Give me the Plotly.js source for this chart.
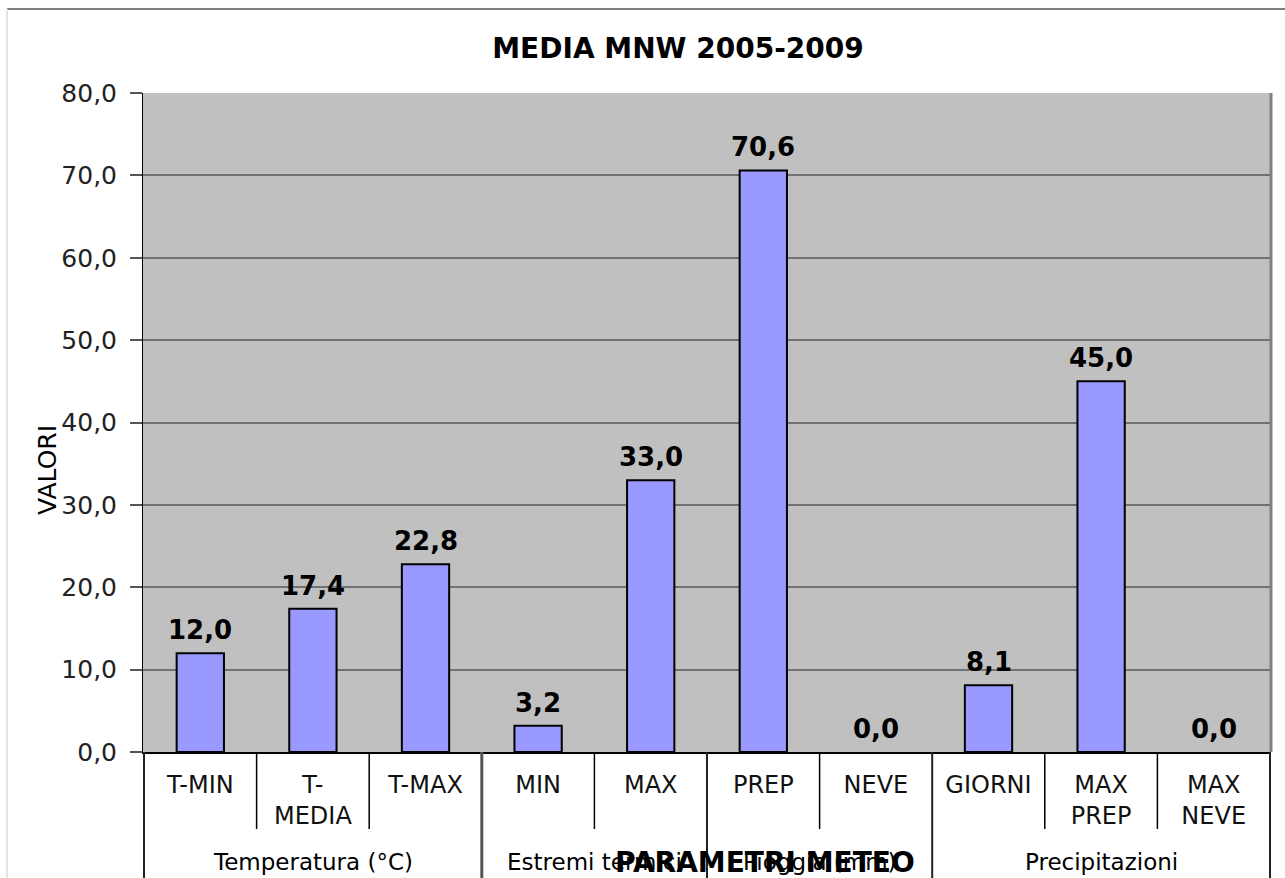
<!DOCTYPE html>
<html>
<head>
<meta charset="utf-8">
<script src="https://cdn.plot.ly/plotly-3.0.1.min.js"></script>
<style>
  html, body { margin: 0; padding: 0; background: #fff; }
  #chart { width: 1285px; height: 878px; }
</style>
</head>
<body>
<div id="chart"></div>
<script>
"use strict";

// Categories, left to right, and the group each one belongs to.
var categories = ['T-MIN', 'T-<br>MEDIA', 'T-MAX', 'MIN', 'MAX', 'PREP', 'NEVE', 'GIORNI', 'MAX<br>PREP', 'MAX<br>NEVE'];
var values = [12.0, 17.4, 22.8, 3.2, 33.0, 70.6, 0.0, 8.1, 45.0, 0.0];
var groupNames = ['Temperatura (°C)', 'Estremi termici', 'Pioggia (mm)', 'Precipitazioni'];
var groupSizes = [3, 2, 2, 3];
var yTicks = [0, 10, 20, 30, 40, 50, 60, 70, 80];

var FONT = '"DejaVu Sans", Verdana, sans-serif';

// Pixel helpers for the label area below the plot (plot spans y 93..752).
var PLOT_TOP = 93, PLOT_BOTTOM = 752;
function paperY(px) {
  return (PLOT_BOTTOM - px) / (PLOT_BOTTOM - PLOT_TOP);
}

var bars = {
  type: 'bar',
  x: categories,
  y: values,
  marker: {
    color: '#9999FF',
    // zero-height bars show no outline in the original
    line: {color: '#000000', width: values.map(function(v) { return v > 0 ? 2 : 0; })},
  },
  hoverinfo: 'x+y',
};

// Value labels above bars.
var annotations = values.map(function(v, i) {
  return {
    x: categories[i],
    y: v,
    xref: 'x',
    yref: 'y',
    text: v.toFixed(1).replace('.', ','),
    showarrow: false,
    yanchor: 'bottom',
    yshift: 6,
    font: {family: FONT, size: 26, color: '#000', weight: 'bold'},
  };
});

// Separators between categories, long ones between groups.
var shapes = [];
var start = 0;
var groupEdges = [0];
groupSizes.forEach(function(size, g) {
  annotations.push({
    x: start + (size - 1) / 2,
    xref: 'x',
    y: paperY(862),
    yref: 'paper',
    text: groupNames[g],
    showarrow: false,
    yanchor: 'middle',
    font: {family: FONT, size: 23, color: '#000'},
  });
  for (var k = 1; k < size; k++) {
    shapes.push({
      type: 'line', xref: 'x', yref: 'paper',
      x0: start + k - 0.5, x1: start + k - 0.5,
      y0: 0, y1: paperY(829),
      line: {color: '#000', width: 1.5},
    });
  }
  start += size;
  groupEdges.push(start);
});
groupEdges.forEach(function(edge, i) {
  shapes.push({
    type: 'line', xref: 'x', yref: 'paper',
    x0: edge - 0.5, x1: edge - 0.5,
    y0: 0, y1: paperY(900),
    line: {color: i === 1 ? '#555' : '#222', width: i === 1 ? 3 : 2},
  });
});

// Right border of the plot area and outer chart frame.
shapes.push({
  type: 'line', xref: 'paper', yref: 'paper',
  x0: 1, x1: 1, y0: 0, y1: 1,
  line: {color: '#808080', width: 3},
});
shapes.push({
  type: 'line', xref: 'paper', yref: 'paper',
  x0: (7 - 143) / 1128, x1: 1.05, y0: paperY(9), y1: paperY(9),
  line: {color: '#808080', width: 2},
});
shapes.push({
  type: 'line', xref: 'paper', yref: 'paper',
  x0: (7 - 143) / 1128, x1: (7 - 143) / 1128, y0: paperY(9), y1: paperY(900),
  line: {color: '#E4E4E4', width: 2},
});

// Axis titles (they overlap the labels in the original).
annotations.push({
  x: (47 - 143) / 1128, xref: 'paper', xanchor: 'center',
  y: paperY(470), yref: 'paper', yanchor: 'middle',
  text: 'VALORI',
  textangle: -90,
  showarrow: false,
  font: {family: FONT, size: 25, color: '#000'},
});
annotations.push({
  x: (765 - 143) / 1128, xref: 'paper', xanchor: 'center',
  y: paperY(862), yref: 'paper',
  text: 'PARAMETRI METEO',
  showarrow: false,
  yanchor: 'middle',
  font: {family: FONT, size: 28, color: '#000', weight: 'bold'},
});

var layout = {
  width: 1285,
  height: 878,
  margin: {l: 143, r: 14, t: PLOT_TOP, b: 878 - PLOT_BOTTOM},
  paper_bgcolor: '#FFFFFF',
  plot_bgcolor: '#C0C0C0',
  separators: ',.',
  showlegend: false,
  bargap: 0.58,
  title: {
    text: '<b>MEDIA MNW 2005-2009</b>',
    x: 678 / 1285,
    xanchor: 'center',
    y: 1 - 48 / 878,
    yanchor: 'middle',
    font: {family: FONT, size: 28, color: '#000'},
  },
  xaxis: {
    type: 'category',
    showline: true,
    linecolor: '#000',
    linewidth: 2,
    ticks: '',
    ticklabelstandoff: 10,
    showgrid: false,
    tickangle: 0,
    tickfont: {family: FONT, size: 24, color: '#111'},
    fixedrange: true,
  },
  yaxis: {
    range: [0, 80],
    tickvals: yTicks,
    tickformat: '.1f',
    showline: true,
    linecolor: '#000',
    linewidth: 1,
    ticks: 'outside',
    ticklen: 12,
    tickcolor: '#555',
    tickwidth: 2,
    ticklabelstandoff: 8,
    gridcolor: '#727272',
    gridwidth: 2,
    zeroline: false,
    tickfont: {family: FONT, size: 25, color: '#222'},
    fixedrange: true,
  },
  shapes: shapes,
  annotations: annotations,
};

Plotly.newPlot('chart', [bars], layout, {displayModeBar: false, staticPlot: true});
</script>
</body>
</html>
